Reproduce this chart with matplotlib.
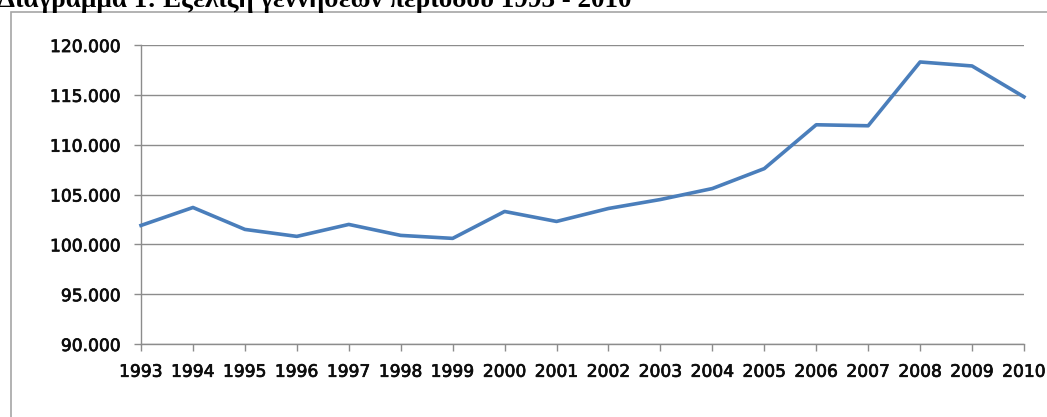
import numpy as np
import matplotlib.pyplot as plt
import matplotlib.patheffects as pe
from matplotlib.patches import Rectangle
from matplotlib.ticker import FuncFormatter

years = [1993, 1994, 1995, 1996, 1997, 1998, 1999, 2000, 2001,
         2002, 2003, 2004, 2005, 2006, 2007, 2008, 2009, 2010]
births = [101.9, 103.7, 101.5, 100.8, 102.0, 100.9, 100.6, 103.3, 102.3,
          103.6, 104.5, 105.6, 107.6, 112.0, 111.9, 118.3, 117.9, 114.8]
y_ticks = [90, 95, 100, 105, 110, 115, 120]
title = 'Διάγραμμα 1: Εξέλιξη γεννήσεων περιόδου 1993 - 2010'

fig = plt.figure(figsize=(10.47, 4.17), dpi=100)
ax = fig.add_axes([0.1347, 0.175, 0.8433, 0.717])

grid_col = '#8c8c8c'
label_col = '#0d0d0d'
x = np.arange(len(years))
ax.plot(x, births, color='#4a7ebb', lw=2.6, solid_joinstyle='round', zorder=3, clip_on=False)

ax.set_xlim(0, len(years) - 1)
ax.set_ylim(90, 120)
ax.set_yticks(y_ticks)
ax.yaxis.set_major_formatter(FuncFormatter(lambda v, p: f'{v:.3f}'))
ax.set_xticks(x)
ax.set_xticklabels([str(y) for y in years])
ax.yaxis.grid(True, color=grid_col, lw=1)
ax.set_axisbelow(True)

for s in ['top', 'right']:
    ax.spines[s].set_visible(False)
for s in ['left', 'bottom']:
    ax.spines[s].set_color(grid_col)
    ax.spines[s].set_linewidth(1)

ax.tick_params(axis='both', colors=grid_col, length=5, width=1, direction='out',
               labelcolor=label_col, labelsize=12.3)
ax.tick_params(axis='y', pad=9.5)
ax.tick_params(axis='x', pad=8.5)

# labels in the source look a bit heavier than DejaVu regular
for lbl in ax.get_xticklabels() + ax.get_yticklabels():
    lbl.set_path_effects([pe.withStroke(linewidth=0.5, foreground=label_col)])

# outer chart frame, running off the right and bottom of the image
fig.patches.append(Rectangle((11 / 1047, -0.2), 1.3, 1 - 12 / 417 + 0.2,
                             transform=fig.transFigure, fill=False,
                             edgecolor='#a6a6a6', lw=1.2))

# title sits mostly above the top edge, as in the source image
fig.text(-2 / 1047, 1 - 7 / 417, title, family='Liberation Serif', weight='bold',
         fontsize=19.5, va='baseline', ha='left', color='black')

fig.savefig('out.png', dpi=100)
